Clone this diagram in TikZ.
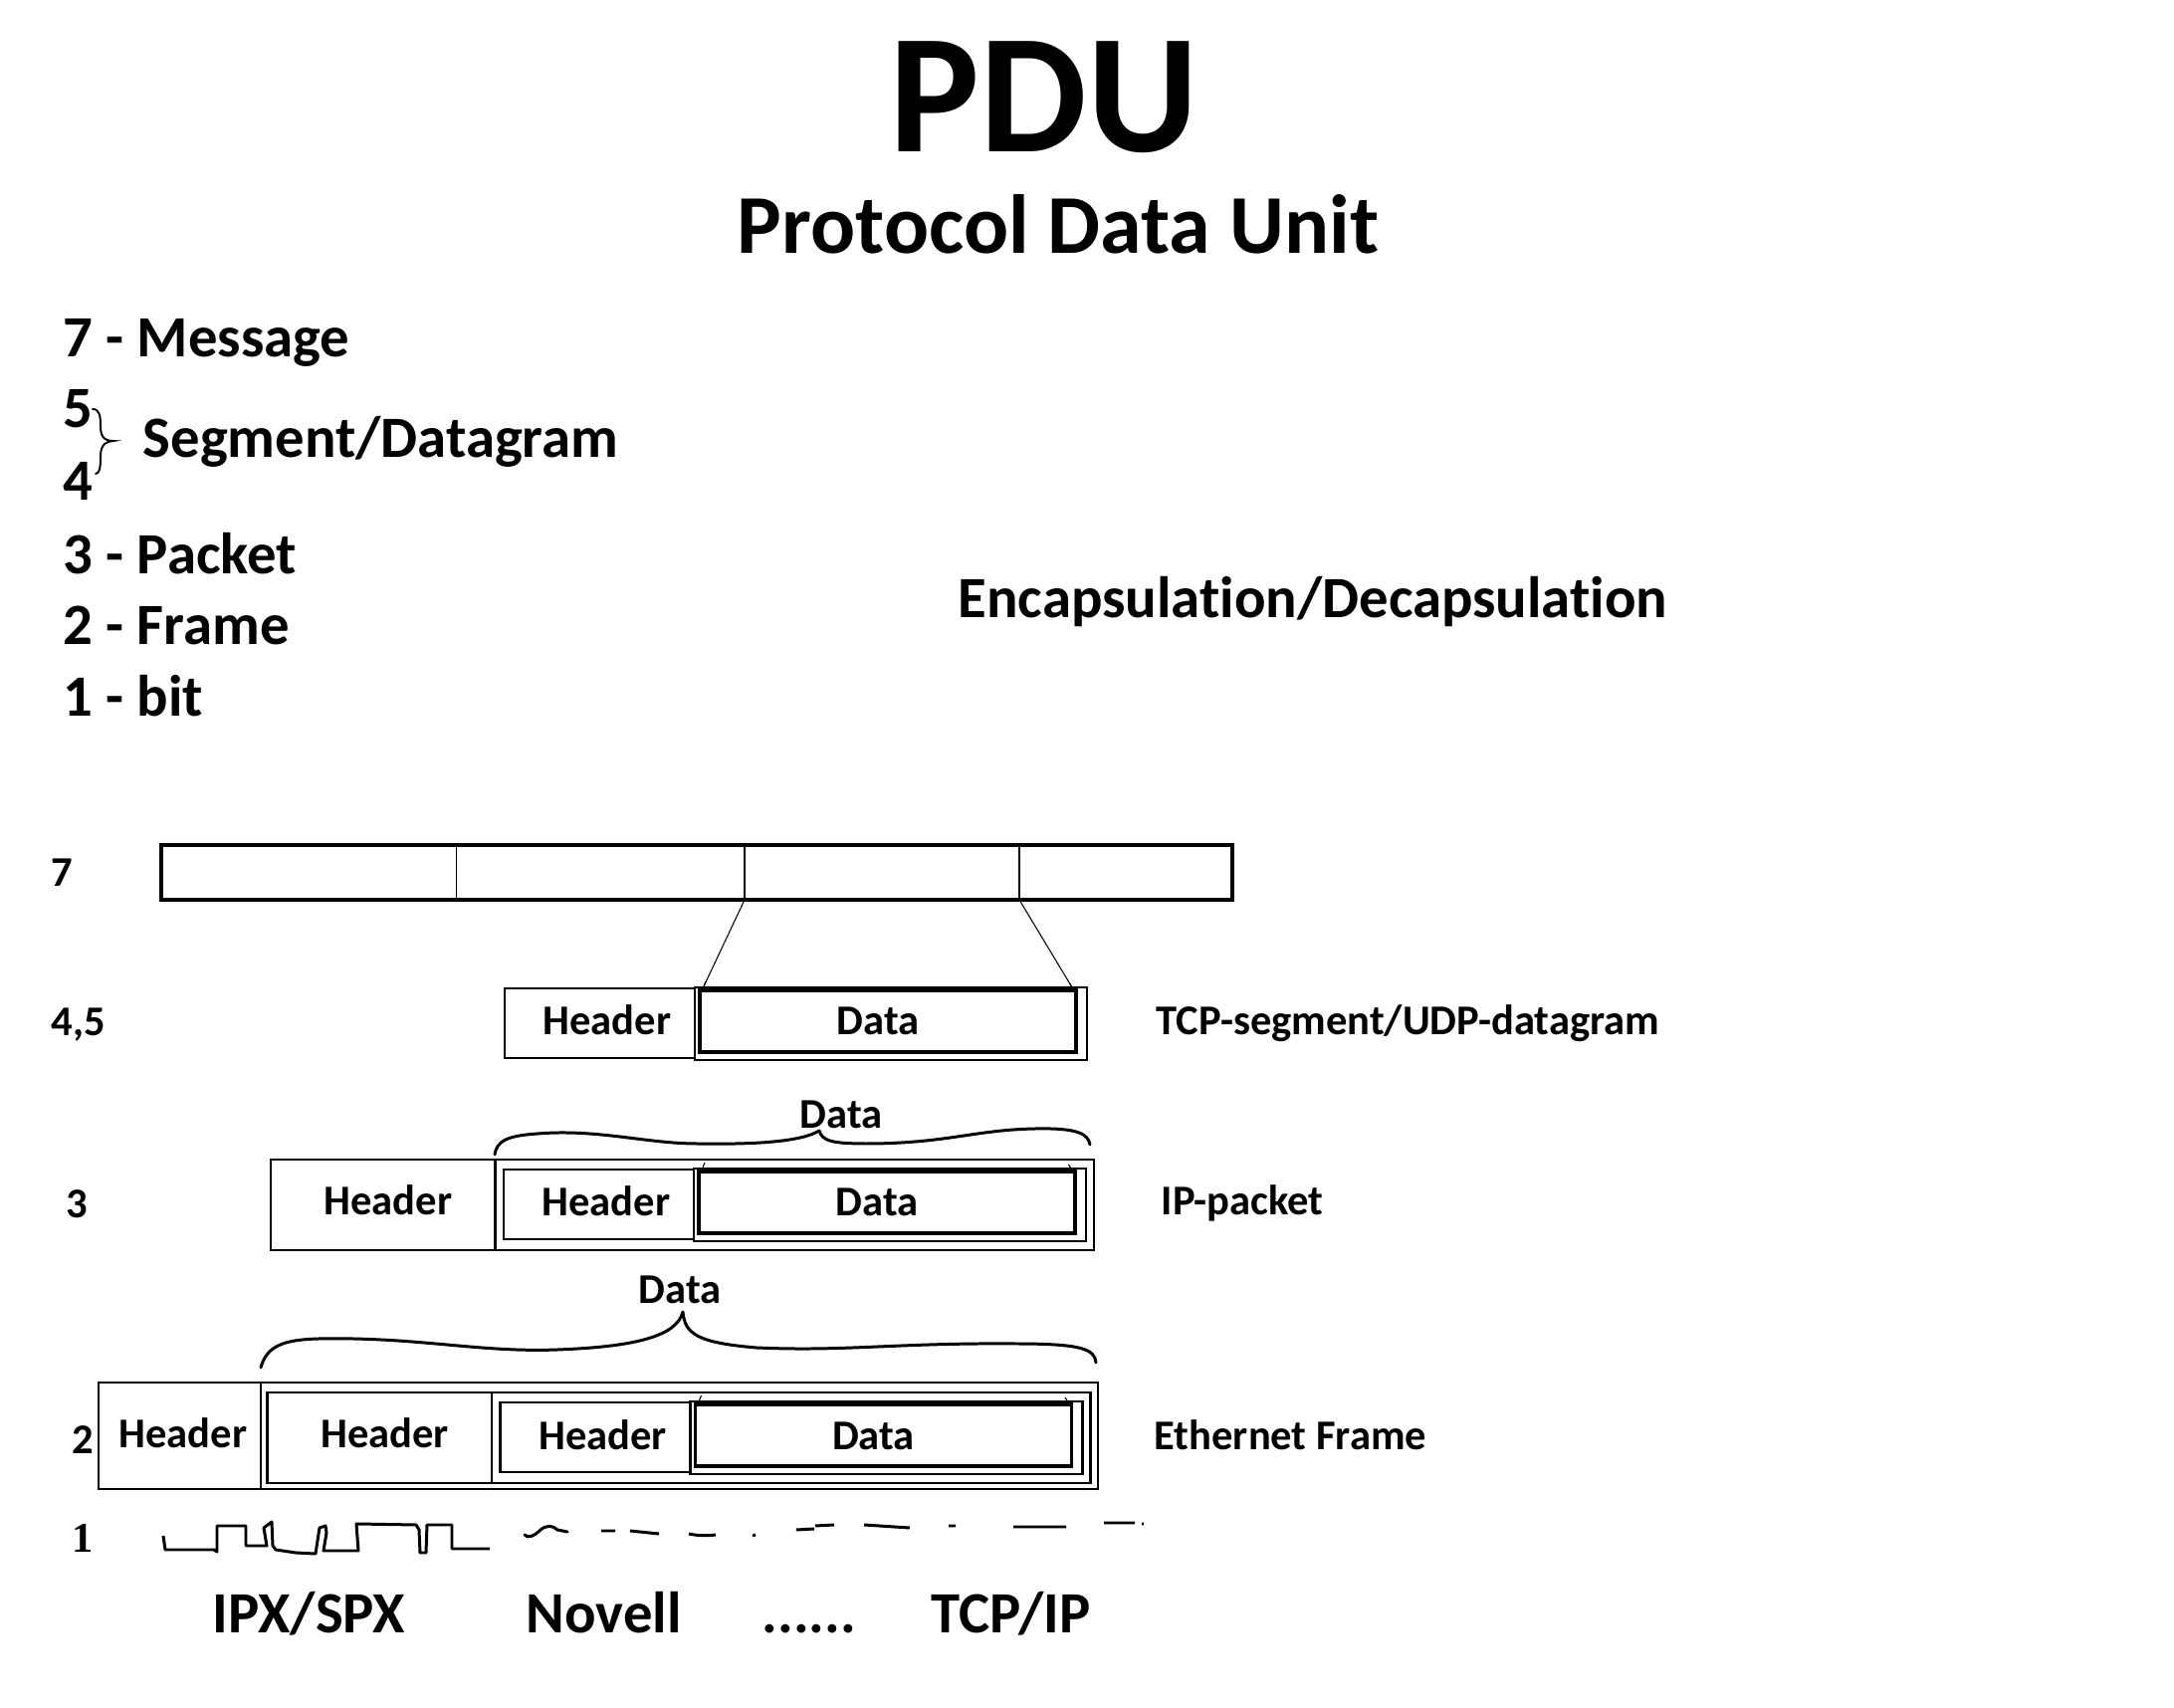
\documentclass[tikz,border=0pt]{standalone}
\usepackage{fontspec}
\setmainfont{Carlito}[Ligatures=NoCommon]
\newfontfamily\onefont{Liberation Serif}

\begin{document}
\begin{tikzpicture}[x=0.01cm,y=-0.01cm,font=\bfseries]
\tikzstyle{lbl}=[inner sep=0pt,anchor=base west]
\tikzstyle{mid}=[inner sep=0pt,anchor=base]
\tikzstyle{big}=[font=\fontsize{16.7}{20}\selectfont\bfseries]
\tikzstyle{cell}=[font=\fontsize{12.1}{14}\selectfont\bfseries]
\tikzstyle{boxline}=[line width=0.8pt]
\tikzstyle{fatline}=[line width=1.35pt]
\tikzstyle{dataline}=[line width=0.95pt]
\tikzstyle{handbrace}=[line width=0.85pt,line cap=round,line join=round]
\useasboundingbox (0,0) rectangle (2184,1716);

% title
\node[mid,font=\fontsize{48.6}{56}\selectfont\bfseries] (pdu) at (1049,153) {PDU};
\node[mid,font=\fontsize{23.9}{28}\selectfont\bfseries] (pdufull) at (1063,255) {Protocol Data Unit};

% names per layer
\node[lbl,big] (l7) at (63,359) {7 - Message};
\node[lbl,big] (l5) at (63,430) {5};
\node[lbl,big] (l4) at (63,503) {4};
\node[lbl,big] (l45) at (143,460) {Segment/Datagram};
\node[lbl,big] (l3) at (63,577) {3 - Packet};
\node[lbl,big] (l2) at (63,648) {2 - Frame};
\node[lbl,big] (l1) at (63,720) {1 - bit};
\draw[line width=0.55pt,line cap=round] (93,411) .. controls (100,411) and (101,418) .. (101,428) .. controls (101,438) and (104,443) .. (114,443) .. controls (104,444) and (101,449) .. (101,459) .. controls (101,470) and (100,476) .. (96,476);

\node[lbl,big] (encap) at (962,621) {Encapsulat\kern0pt ion/Decapsulat\kern0pt ion};

% layer 7
\node[lbl,cell] (n7) at (51,891) {7};
\draw[fatline] (162,849) rectangle (1238,904);
\draw[line width=0.4pt] (458.5,849) -- (458.5,904) (748,849) -- (748,904) (1024,849) -- (1024,904);
\coordinate (m7a) at (748,904);
\coordinate (m7b) at (1024,904);

% segment, again inside packet and frame
\foreach \sx/\sy/\n in {0/0/a,-1/182/b,-4.5/416/c}{
\begin{scope}[shift={(\sx,\sy)}]
\draw[boxline] (507,993) rectangle (698,1063);
\draw[boxline] (698,992) rectangle (1092,1065);
\draw[dataline] (703,995) rectangle (1081,1057);
\node[mid,cell] (sh\n) at (610,1040) {Header};
\node[mid,cell] (sd\n) at (882,1040) {Data};
\coordinate (sl\n) at (707,991);
\coordinate (sr\n) at (1077,992);
\draw[line width=0.3pt] (sl\n) -- ++(2,-5) (sr\n) -- ++(-2.5,-4);
\end{scope}
}
\draw[line width=0.3pt] (m7a) -- (sla);
\draw[line width=0.3pt] (m7b) -- (sra);
\node[lbl,cell] (n45) at (51,1041) {4,5};
\node[lbl,cell] (tcp) at (1161,1040) {TCP-segment/UDP-datagram};

% packet, again inside frame
\foreach \px/\py/\n in {0/0/a,-3.5/234/b}{
\begin{scope}[shift={(\px,\py)}]
\draw[boxline] (272,1165) rectangle (1099,1256);
\draw[boxline] (497.5,1165) -- (497.5,1256);
\node[mid,cell] (ph\n) at (390,1221) {Header};
\end{scope}
}
\draw[handbrace] (497,1160) .. controls (499,1146) and (510,1141) .. (540,1139) .. controls (600,1134) and (650,1149) .. (700,1149) .. controls (760,1150) and (805,1147) .. (823,1136) .. controls (826,1146) and (835,1149) .. (870,1149) .. controls (950,1149) and (980,1135) .. (1040,1134) .. controls (1085,1133) and (1093,1140) .. (1095,1150);
\node[mid,cell] (pd) at (845,1134) {Data};
\node[lbl,cell] (n3) at (66,1224) {3};
\node[lbl,cell] (ip) at (1166,1221) {IP-packet};

% frame
\draw[boxline] (99,1389) rectangle (1103,1496);
\draw[boxline] (262,1389) -- (262,1496);
\node[mid,cell] (eh) at (184,1455) {Header};
\draw[handbrace] (262,1374) .. controls (268,1352) and (285,1346) .. (320,1345) .. controls (420,1343) and (480,1359) .. (560,1356) .. controls (640,1353) and (680,1342) .. (686,1318) .. controls (688,1340) and (700,1349) .. (760,1354) .. controls (850,1358) and (900,1349) .. (1020,1350) .. controls (1085,1350) and (1100,1355) .. (1101,1369);
\node[mid,cell] (ed) at (683,1310) {Data};
\node[lbl,cell] (n2) at (72,1460) {2};
\node[lbl,cell] (eth) at (1159,1456) {Ethernet Frame};

% bits
\node[lbl,cell] (n1) at (72,1559) {\onefont\bfseries 1};
\draw[line width=0.85pt,line join=round] (164,1543) -- (166,1557) -- (215,1557) -- (218,1559) -- (218,1533) -- (247,1533) -- (247,1553) -- (268,1553) -- (265,1535) -- (273,1529) -- (274,1553) -- (277,1557) -- (297,1560) -- (317,1561) -- (321,1535) -- (327,1533) -- (328,1540) -- (325,1558) -- (360,1558) -- (358,1531) -- (418,1532) -- (421,1537) -- (422,1560) -- (428,1560) -- (429,1532) -- (454,1532) -- (454,1556) -- (492,1556);
\draw[line width=0.85pt,line cap=round] (527,1542) .. controls (530,1546) and (537,1543) .. (542,1538) .. controls (548,1532) and (555,1532) .. (560,1537) -- (570,1539);
\draw[line width=0.85pt] (604,1538) -- (618,1538) (633,1538) -- (662,1541) (692,1541) .. controls (700,1543) and (712,1543) .. (719,1542) (756,1543) -- (759,1542) (800,1537) -- (818,1536) (819,1533) -- (838,1532) (868,1532) -- (914,1535) (953,1533) -- (960,1533) (1018,1534) -- (1071,1534) (1109,1530) -- (1140,1530) (1147,1531) -- (1149,1531);

% protocol stacks
\node[lbl,big] (ipx) at (213,1640) {IPX/SPX};
\node[lbl,big] (novell) at (528,1640) {Novell};
\node[lbl,big] (dots) at (765,1640) {......};
\node[lbl,big] (tcpip) at (935,1640) {TCP/IP};
\end{tikzpicture}
\end{document}
